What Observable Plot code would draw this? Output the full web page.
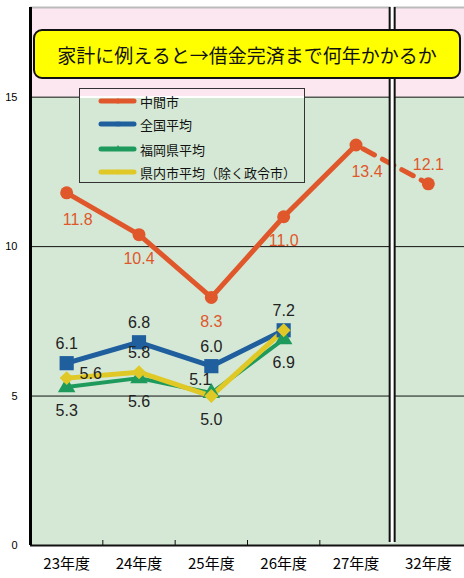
<!DOCTYPE html>
<html><head><meta charset="utf-8">
<script src="https://cdn.jsdelivr.net/npm/d3@7"></script>
<script src="https://cdn.jsdelivr.net/npm/@observablehq/plot@0.6"></script>
<style>
body{margin:0;background:#fff;}
#wrap{position:relative;width:464px;height:578px;overflow:hidden;}
#title{position:absolute;left:33px;top:29px;width:424px;height:46px;background:#ffff00;border:2px solid #111;border-radius:9px;font:19px "Noto Sans CJK JP";color:#111;display:flex;align-items:center;justify-content:center;white-space:nowrap;}
#legend{position:absolute;left:79px;top:88px;width:226px;height:95px;border:1px solid #333;box-sizing:border-box;}
#legend .strip{position:absolute;left:0;right:0;top:7px;height:2px;background:#fff;}
.row{position:absolute;left:18px;height:20px;display:flex;align-items:center;font:13px "Noto Sans CJK JP";color:#111;white-space:nowrap;}
.row svg{margin-right:2px;}
</style></head>
<body><div id="wrap"></div>
<script>
const years = ["23年度","24年度","25年度","26年度","27年度","32年度"];
const nakama  = [11.8, 10.4, 8.3, 11.0, 13.4, 12.1];
const zenkoku = [6.1, 6.8, 6.0, 7.2];
const fukuoka = [5.3, 5.6, 5.1, 6.9];
const kennai  = [5.6, 5.8, 5.0, 7.2];
const seriesNames = ["中間市","全国平均","福岡県平均","県内市平均（除く政令市）"];
const titleText = "家計に例えると→借金完済まで何年かかるか";
const yTicks = [0, 5, 10, 15];
// label placement codes (b=below, a=above, br=below-right, r=right, al=above-left, null=no label)
const nakamaPos  = ["br","b","b","b","br","a"];
const zenkokuPos = ["a","a","a","a"];
const fukuokaPos = ["b","b","al","b"];
const kennaiPos  = ["r","a","b",null];

const colors = ["#E0572B","#1F5F9E","#1E9A5C","#E0C826"];
const symbols = ["circle","square","triangle","diamond2"];
const offsets = {b:[0,24], a:[0,-19], br:[11,27], r:[24,-4], al:[-11,-13]};

const rows = [];
function add(k, vals, pos){ vals.forEach((v,i)=>rows.push({s:k, name:seriesNames[k], i, v, pos:pos[i]})); }
add(0, nakama, nakamaPos); add(1, zenkoku, zenkokuPos); add(2, fukuoka, fukuokaPos); add(3, kennai, kennaiPos);
const ser = k => rows.filter(d=>d.s===k);

const bands = [{y1:0,y2:15,c:"#D4E8D5"},{y1:15,y2:18,c:"#FCE6EF"}];
const lw = [5,5,4,5];
const rr = [6.5,8,6.5,6.3];

const marks = [
  Plot.rect(bands, {x1:()=>-0.5, x2:()=>5.5, y1:"y1", y2:"y2", fill:"c"}),
  Plot.ruleY([5,10,15], {stroke:"#111", strokeWidth:1}),
  Plot.ruleY([18], {stroke:"#bbb", strokeWidth:2}),
  Plot.ruleY([0], {stroke:"#111", strokeWidth:2}),
  Plot.ruleX([-0.5], {stroke:"#000", strokeWidth:3}),
  Plot.axisY({ticks:yTicks, tickSize:0, tickPadding:13, fontSize:11, fontFamily:"Liberation Sans", tickFormat:d=>d, label:null}),
  Plot.axisX({ticks:[0,1,2,3,4,5], tickSize:0, tickPadding:13, fontSize:15, fontFamily:"Noto Sans CJK JP", tickFormat:i=>years[i], label:null}),
  Plot.axisX({ticks:[0.5,1.5,2.5,3.5], tickSize:-5, tickFormat:()=>"", stroke:"#111", label:null}),
  // 中間市
  Plot.line(ser(0).filter(d=>d.i<=4), {x:"i", y:"v", stroke:colors[0], strokeWidth:lw[0], strokeLinecap:"round", strokeLinejoin:"round"}),
  Plot.line(ser(0).filter(d=>d.i>=4), {x:"i", y:"v", stroke:colors[0], strokeWidth:lw[0], strokeDasharray:"13,9", strokeDashoffset:-8}),
];
for (const k of [1,2,3]) {
  marks.push(Plot.line(ser(k), {x:"i", y:"v", stroke:colors[k], strokeWidth:lw[k], strokeLinejoin:"round", strokeLinecap:"round"}));
}
for (const k of [0,1,2,3]) {
  marks.push(Plot.dot(ser(k), {x:"i", y:"v", symbol:()=>symbols[k], r:rr[k], fill:colors[k], stroke:"none"}));
}
marks.push(Plot.ruleX([4.5], {y1:0, y2:18, stroke:"#111", strokeWidth:7, insetTop:-3}));
marks.push(Plot.ruleX([4.5], {y1:0, y2:18, stroke:"#fff", strokeWidth:3, insetTop:-2, insetBottom:1}));
for (const [code,[dx,dy]] of Object.entries(offsets)) {
  marks.push(Plot.text(rows.filter(d=>d.pos===code), {x:"i", y:"v", text:d=>d.v.toFixed(1), dx, dy,
    fill:d=>d.s===0?colors[0]:"#222", fontSize:16, fontFamily:"Liberation Sans"}));
}

const chart = Plot.plot({
  width:464, height:578,
  marginLeft:30, marginRight:0, marginTop:7, marginBottom:33,
  x:{domain:[-0.5,5.5], axis:null, label:null},
  y:{domain:[0,18], axis:null, label:null},
  style:{background:"transparent", overflow:"visible"},
  marks
});
const wrap = document.getElementById("wrap");
wrap.appendChild(chart);

const t = document.createElement("div"); t.id="title"; t.textContent = titleText; wrap.appendChild(t);
const lg = document.createElement("div"); lg.id="legend"; wrap.appendChild(lg);
const strip = document.createElement("div"); strip.className="strip"; lg.appendChild(strip);
const tops = [2,25,50,73];
seriesNames.forEach((n,k)=>{
  const r = document.createElement("div"); r.className="row"; r.style.top = tops[k]+"px";
  const sv = d3.create("svg").attr("width",40).attr("height",12);
  sv.append("line").attr("x1",3).attr("x2",36).attr("y1",6).attr("y2",6).attr("stroke",colors[k]).attr("stroke-width",5).attr("stroke-linecap","round");
  const sym = [d3.symbolCircle,d3.symbolSquare,d3.symbolTriangle,d3.symbolDiamond2][k];
  sv.append("path").attr("d", d3.symbol(sym, 20)()).attr("transform","translate(20,6)").attr("fill",colors[k]);
  r.appendChild(sv.node());
  const sp = document.createElement("span"); sp.textContent = n; r.appendChild(sp);
  lg.appendChild(r);
});
</script>
</body></html>
